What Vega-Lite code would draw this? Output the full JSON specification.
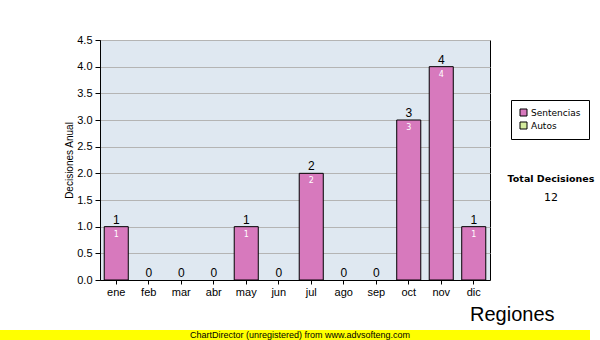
{
  "$schema": "https://vega.github.io/schema/vega-lite/v6.json",
  "background": "white",
  "padding": {"left": 0, "top": 33, "right": 0, "bottom": 0},
  "autosize": {"type": "pad"},
  "bounds": "flush",
  "center": true,
  "spacing": 50,
  "config": {
    "font": "Liberation Sans",
    "axis": {"labelFont": "Liberation Sans", "titleFont": "Liberation Sans", "labelColor": "black", "titleColor": "black", "domainColor": "black", "tickColor": "black"}
  },
  "vconcat": [
    {
      "width": 390,
      "height": 240,
      "view": {"fill": "#dfe8f1", "stroke": "black", "strokeWidth": 1},
      "title": {
        "text": "Total Decisiones",
        "subtitle": "12",
        "frame": "group",
        "anchor": "start",
        "align": "center",
        "dx": 451,
        "dy": 173,
        "font": "DejaVu Sans",
        "fontSize": 9.5,
        "fontWeight": "bold",
        "color": "black",
        "subtitleFont": "DejaVu Sans",
        "subtitleFontSize": 11,
        "subtitleColor": "black",
        "subtitlePadding": 9
      },
      "data": {
        "values": [
          {"mes": "ene", "valor": 1},
          {"mes": "feb", "valor": 0},
          {"mes": "mar", "valor": 0},
          {"mes": "abr", "valor": 0},
          {"mes": "may", "valor": 1},
          {"mes": "jun", "valor": 0},
          {"mes": "jul", "valor": 2},
          {"mes": "ago", "valor": 0},
          {"mes": "sep", "valor": 0},
          {"mes": "oct", "valor": 3},
          {"mes": "nov", "valor": 4},
          {"mes": "dic", "valor": 1}
        ]
      },
      "encoding": {
        "x": {
          "field": "mes",
          "type": "nominal",
          "sort": ["ene", "feb", "mar", "abr", "may", "jun", "jul", "ago", "sep", "oct", "nov", "dic"],
          "scale": {"paddingInner": 0.26, "paddingOuter": 0.13},
          "axis": {"title": null, "labelAngle": 0, "labelFontSize": 11, "labelPadding": 2, "tickSize": 4, "grid": false, "domainColor": "black"}
        },
        "y": {
          "field": "valor",
          "type": "quantitative",
          "scale": {"domain": [0, 4.5], "nice": false},
          "axis": {
            "title": "Decisiones Anual",
            "titleFontSize": 10,
            "titleFontWeight": "normal",
            "titlePadding": 2,
            "values": [0, 0.5, 1, 1.5, 2, 2.5, 3, 3.5, 4, 4.5],
            "format": ".1f",
            "labelFontSize": 11,
            "labelPadding": 3,
            "tickSize": 5,
            "grid": true,
            "gridColor": "#b4b4b4",
            "gridOpacity": 1,
            "domainColor": "black"
          }
        }
      },
      "layer": [
        {
          "transform": [{"filter": "datum.valor > 0"}],
          "mark": {"type": "bar", "stroke": "black", "strokeWidth": 1, "opacity": 1},
          "encoding": {
            "color": {
              "datum": "Sentencias",
              "type": "nominal",
              "scale": {"domain": ["Sentencias", "Autos"], "range": ["#d779bd", "#d4eb9e"]},
              "legend": {
                "title": null,
                "orient": "none",
                "legendX": 511,
                "legendY": 60,
                "strokeColor": "black",
                "fillColor": "white",
                "padding": 8,
                "symbolType": "square",
                "symbolSize": 49,
                "symbolStrokeColor": "black",
                "symbolStrokeWidth": 1,
                "symbolOpacity": 1,
                "labelFont": "DejaVu Sans",
                "labelFontSize": 9,
                "labelColor": "black",
                "labelOffset": 3,
                "rowPadding": 2
              }
            }
          }
        },
        {
          "mark": {"type": "text", "baseline": "alphabetic", "dy": -3, "fontSize": 12, "color": "black"},
          "encoding": {"text": {"field": "valor", "type": "quantitative"}}
        },
        {
          "transform": [{"filter": "datum.valor > 0"}],
          "mark": {"type": "text", "baseline": "top", "dy": 4, "fontSize": 8, "color": "white", "font": "DejaVu Sans"},
          "encoding": {"text": {"field": "valor", "type": "quantitative"}}
        }
      ]
    },
    {
      "width": 590,
      "height": 10,
      "view": {"fill": "#ffff00", "stroke": null},
      "title": {
        "text": "Regiones",
        "frame": "group",
        "anchor": "start",
        "dx": 470,
        "offset": 5,
        "fontSize": 20,
        "fontWeight": "normal",
        "font": "Liberation Sans",
        "color": "black"
      },
      "data": {"values": [{"t": "ChartDirector (unregistered) from www.advsofteng.com"}]},
      "mark": {"type": "text", "fontSize": 9, "color": "black", "dx": 5, "baseline": "middle", "font": "Liberation Sans"},
      "encoding": {"text": {"field": "t", "type": "nominal"}}
    }
  ]
}
